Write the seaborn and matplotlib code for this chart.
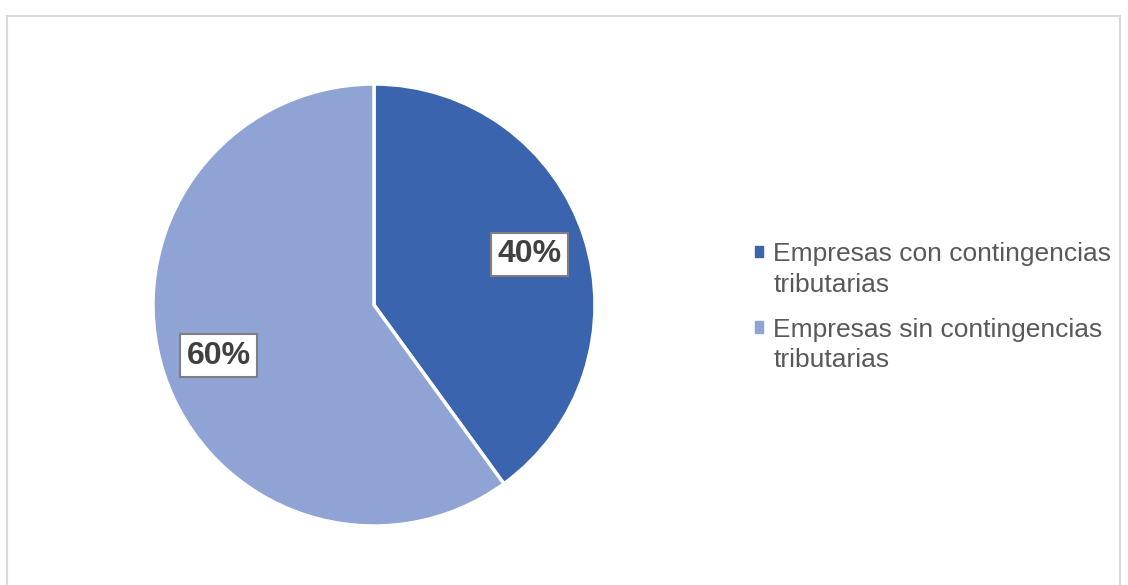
import matplotlib.pyplot as plt
import matplotlib.patches as mpatches
from matplotlib.legend_handler import HandlerPatch
import seaborn as sns

# datos
categorias = ['Empresas con contingencias\ntributarias',
              'Empresas sin contingencias\ntributarias']
valores = [40, 60]
colores = ['#3A64AD', '#8FA3D4']

sns.set_theme(style='white')
plt.rcParams['font.family'] = ['Liberation Sans', 'DejaVu Sans']

fig = plt.figure(figsize=(11.28, 5.85), dpi=100)
ax = fig.add_axes([153/1128, 59/585, 442/1128, 442/585])

wedges, textos, autotextos = ax.pie(
    valores, colors=colores, startangle=90, counterclock=False,
    autopct='%1.0f%%', pctdistance=0.74,
    wedgeprops=dict(edgecolor='white', linewidth=2.5),
    textprops=dict(fontsize=23, fontweight='bold', color='#404040'))
for t in autotextos:
    t.set_bbox(dict(boxstyle='square,pad=0.2', fc='white', ec='#7F7F7F', lw=1.5))
ax.set_xlim(-1, 1)
ax.set_ylim(-1, 1)
ax.set_aspect('equal')


# marcador de leyenda alineado con la primera linea
def cuadro(legend, orig_handle, xdescent, ydescent, width, height, fontsize):
    return mpatches.Rectangle((-xdescent, -ydescent + 0.68 * fontsize), width, height)


handles = [mpatches.Patch(color=c) for c in colores]
leg = fig.legend(handles, categorias, loc='upper left', bbox_to_anchor=(755/1128, 1 - 242/585),
                 frameon=False, fontsize=19, labelcolor='#595959',
                 handlelength=0.3, handleheight=0.3, handletextpad=0.4,
                 labelspacing=0.8, borderpad=0, borderaxespad=0,
                 handler_map={mpatches.Patch: HandlerPatch(patch_func=cuadro)})
for t in leg.get_texts():
    t.set_linespacing(1.35)

# borde del grafico
fig.patches.append(mpatches.Rectangle((7/1128, -0.05), 1113/1128, 1.05 - 16/585,
                                      transform=fig.transFigure, fill=False,
                                      edgecolor='#D9D9D9', linewidth=1.5))

fig.savefig('out.png', dpi=100)
